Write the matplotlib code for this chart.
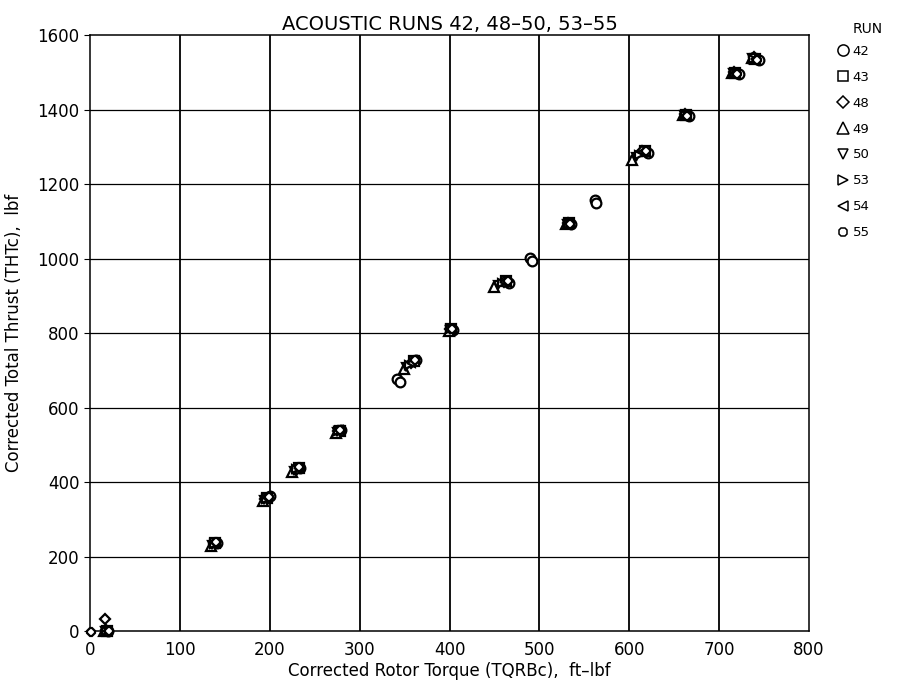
import matplotlib.pyplot as plt

# torque (ft-lbf) / thrust (lbf), one pair of lists per run
run_labels = ["42", "43", "48", "49", "50", "53", "54", "55"]
run_markers = ["o", "s", "D", "^", "v", ">", "<", "8"]
run_sizes = [7, 6.5, 5, 7, 6, 6, 6, 5.5]

run_42_x = [20, 141, 200, 234, 279, 342, 345, 363, 404, 466, 490, 492, 535, 562, 563, 621, 666, 722, 744]
run_42_y = [0, 236, 362, 438, 539, 676, 668, 727, 809, 935, 1002, 994, 1092, 1156, 1148, 1283, 1382, 1495, 1532]
run_43_x = [19, 139, 197, 232, 278, 360, 402, 463, 533, 617, 663, 718, 740]
run_43_y = [1, 236, 357, 437, 538, 724, 810, 940, 1095, 1288, 1386, 1498, 1537]
run_48_x = [18, 17, 138, 195, 230, 276, 357, 401, 461, 532, 614, 662, 716, 739]
run_48_y = [2, 32, 235, 354, 435, 536, 719, 810, 938, 1096, 1290, 1388, 1500, 1540]
run_49_x = [16, 135, 193, 225, 274, 349, 399, 450, 530, 603, 660, 714, 736]
run_49_y = [0, 229, 350, 426, 533, 703, 806, 924, 1093, 1264, 1385, 1497, 1538]
run_50_x = [17, 136, 194, 227, 275, 352, 400, 454, 531, 607, 661, 715, 737]
run_50_y = [0, 231, 352, 430, 535, 709, 808, 930, 1094, 1272, 1386, 1499, 1538]
run_53_x = [18, 138, 196, 229, 276, 355, 401, 458, 532, 611, 662, 716, 738]
run_53_y = [1, 233, 355, 434, 537, 715, 810, 935, 1094, 1279, 1385, 1498, 1536]
run_54_x = [19, 139, 197, 231, 277, 357, 402, 461, 533, 614, 663, 717, 740]
run_54_y = [0, 236, 356, 437, 539, 720, 810, 938, 1095, 1285, 1386, 1499, 1536]
run_55_x = [1, 21, 140, 199, 233, 278, 362, 403, 465, 534, 619, 664, 720, 742]
run_55_y = [-3, 1, 238, 360, 440, 541, 729, 811, 941, 1093, 1289, 1384, 1496, 1534]

runs_x = [run_42_x, run_43_x, run_48_x, run_49_x, run_50_x, run_53_x, run_54_x, run_55_x]
runs_y = [run_42_y, run_43_y, run_48_y, run_49_y, run_50_y, run_53_y, run_54_y, run_55_y]

x_ticks = [0, 100, 200, 300, 400, 500, 600, 700, 800]
y_ticks = [0, 200, 400, 600, 800, 1000, 1200, 1400, 1600]

fig = plt.figure(figsize=(9.06, 6.88), dpi=100)
ax = fig.add_axes([0.0993, 0.0828, 0.7937, 0.8662])

for xs, ys, lab, mk, ms in zip(runs_x, runs_y, run_labels, run_markers, run_sizes):
    ax.plot(xs, ys, linestyle="none", marker=mk, markersize=ms,
            markerfacecolor="white", markeredgecolor="black",
            markeredgewidth=1.6, label=lab, clip_on=False, zorder=3)

ax.set_xlim(0, 800)
ax.set_ylim(0, 1600)
ax.set_xticks(x_ticks)
ax.set_yticks(y_ticks)
ax.tick_params(axis="x", length=0, labelsize=12, pad=7)
ax.tick_params(axis="y", length=4, labelsize=12, direction="out")

for xv in x_ticks[1:-1]:
    ax.axvline(xv, color="black", linewidth=1.3, zorder=1)
for yv in y_ticks[1:-1]:
    ax.axhline(yv, color="black", linewidth=0.9, zorder=1)

for pos in ["top", "right", "bottom", "left"]:
    ax.spines[pos].set_linewidth(1.1)

ax.set_title("ACOUSTIC RUNS 42, 48\u201350, 53\u201355", fontsize=14, pad=4)
ax.set_xlabel("Corrected Rotor Torque (TQRBc),  ft\u2013lbf", fontsize=12, labelpad=2)
ax.set_ylabel("Corrected Total Thrust (THTc),  lbf", fontsize=12, labelpad=10)

leg = fig.legend(loc="upper left", bbox_to_anchor=(0.923, 0.935), frameon=False,
                 fontsize=9.5, handlelength=1.0, handletextpad=0.25,
                 labelspacing=0.98, borderpad=0, borderaxespad=0, markerscale=1.15)
for h in leg.legend_handles:
    h.set_markeredgewidth(1.1)
fig.text(0.941, 0.958, "RUN", fontsize=10, ha="left", va="center")

fig.savefig("out.png", dpi=100)
